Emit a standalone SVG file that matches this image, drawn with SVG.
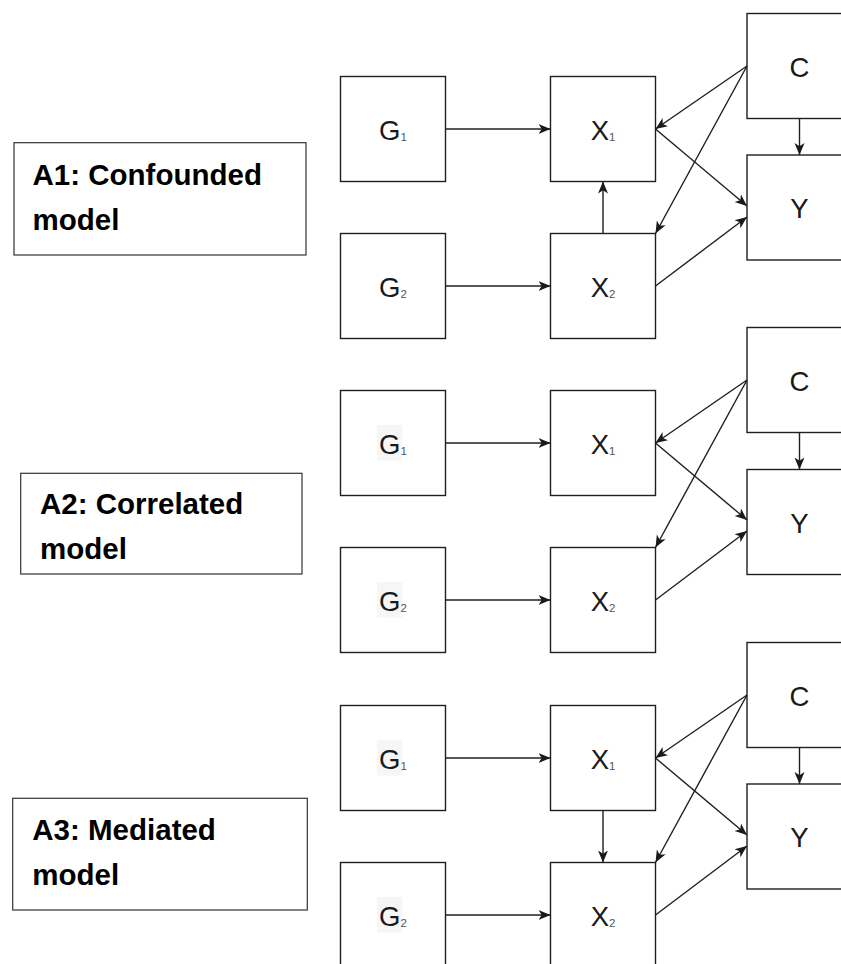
<svg xmlns="http://www.w3.org/2000/svg" width="841" height="964" viewBox="0 0 841 964">
<defs>
<style>
.box{fill:#fff;stroke:#1f1f1f;stroke-width:1.4}
.lbox{fill:#fff;stroke:#333;stroke-width:1.2}
.n{font-family:"Liberation Sans",Arial,sans-serif;font-size:27.5px;fill:#1a1a1a;text-anchor:middle}
.sub{font-size:11.5px;fill:#555}
.lab{font-family:"Liberation Sans",Arial,sans-serif;font-weight:bold;font-size:29.5px;fill:#000}
.hl{fill:#f6f6f6}
.c line{stroke:#1f1f1f;stroke-width:1.4;fill:none;marker-end:url(#ah)}
</style>
<marker id="ah" markerUnits="userSpaceOnUse" markerWidth="14" markerHeight="12" viewBox="0 0 14 12" refX="12" refY="6" orient="auto">
<path d="M0,1 L12,6 L0,11 L3.2,6 z" fill="#1a1a1a"/>
</marker>
</defs>
<rect width="841" height="964" fill="#fff"/>

<!-- Labels -->
<g id="label-a1">
<rect class="lbox" x="14" y="142.7" width="292" height="112.3"/>
<text class="lab" x="32.5" y="185">A1: Confounded</text>
<text class="lab" x="32.5" y="230">model</text>
</g>
<g id="label-a2">
<rect class="lbox" x="20.7" y="473.3" width="281.3" height="100.7"/>
<text class="lab" x="40" y="514">A2: Correlated</text>
<text class="lab" x="40" y="559">model</text>
</g>
<g id="label-a3">
<rect class="lbox" x="12.7" y="798.3" width="294.6" height="111.7"/>
<text class="lab" x="32.3" y="840">A3: Mediated</text>
<text class="lab" x="32.3" y="885">model</text>
</g>

<!-- Section A1 nodes -->
<g id="a1-g1" transform="translate(340.5,76.5)"><rect class="box" width="105" height="105"/><text class="n" x="52.5" y="63">G<tspan class="sub" dy="1.3">1</tspan></text></g>
<g id="a1-x1" transform="translate(550.5,76.5)"><rect class="box" width="105" height="105"/><text class="n" x="52.5" y="63">X<tspan class="sub" dy="1.3">1</tspan></text></g>
<g id="a1-g2" transform="translate(340.5,233.5)"><rect class="box" width="105" height="105"/><text class="n" x="52.5" y="63">G<tspan class="sub" dy="1.3">2</tspan></text></g>
<g id="a1-x2" transform="translate(550.5,233.5)"><rect class="box" width="105" height="105"/><text class="n" x="52.5" y="63">X<tspan class="sub" dy="1.3">2</tspan></text></g>
<g id="a1-c" transform="translate(747,13.5)"><rect class="box" width="105" height="105"/><text class="n" x="52.5" y="63">C</text></g>
<g id="a1-y" transform="translate(747,155)"><rect class="box" width="105" height="105"/><text class="n" x="52.5" y="63">Y</text></g>

<!-- Section A2 nodes -->
<g id="a2-g1" transform="translate(340.5,390.5)"><rect class="box" width="105" height="105"/><rect class="hl" x="36.5" y="34.5" width="25.5" height="35.5"/><text class="n" x="52.5" y="63">G<tspan class="sub" dy="1.3">1</tspan></text></g>
<g id="a2-x1" transform="translate(550.5,390.5)"><rect class="box" width="105" height="105"/><text class="n" x="52.5" y="63">X<tspan class="sub" dy="1.3">1</tspan></text></g>
<g id="a2-g2" transform="translate(340.5,547.5)"><rect class="box" width="105" height="105"/><rect class="hl" x="36.5" y="34.5" width="25.5" height="35.5"/><text class="n" x="52.5" y="63">G<tspan class="sub" dy="1.3">2</tspan></text></g>
<g id="a2-x2" transform="translate(550.5,547.5)"><rect class="box" width="105" height="105"/><text class="n" x="52.5" y="63">X<tspan class="sub" dy="1.3">2</tspan></text></g>
<g id="a2-c" transform="translate(747,327.5)"><rect class="box" width="105" height="105"/><text class="n" x="52.5" y="63">C</text></g>
<g id="a2-y" transform="translate(747,469.5)"><rect class="box" width="105" height="105"/><text class="n" x="52.5" y="63">Y</text></g>

<!-- Section A3 nodes -->
<g id="a3-g1" transform="translate(340.5,705.5)"><rect class="box" width="105" height="105"/><rect class="hl" x="36.5" y="34.5" width="25.5" height="35.5"/><text class="n" x="52.5" y="63">G<tspan class="sub" dy="1.3">1</tspan></text></g>
<g id="a3-x1" transform="translate(550.5,705.5)"><rect class="box" width="105" height="105"/><text class="n" x="52.5" y="63">X<tspan class="sub" dy="1.3">1</tspan></text></g>
<g id="a3-g2" transform="translate(340.5,862.5)"><rect class="box" width="105" height="105"/><rect class="hl" x="36.5" y="34.5" width="25.5" height="35.5"/><text class="n" x="52.5" y="63">G<tspan class="sub" dy="1.3">2</tspan></text></g>
<g id="a3-x2" transform="translate(550.5,862.5)"><rect class="box" width="105" height="105"/><text class="n" x="52.5" y="63">X<tspan class="sub" dy="1.3">2</tspan></text></g>
<g id="a3-c" transform="translate(747,642.5)"><rect class="box" width="105" height="105"/><text class="n" x="52.5" y="63">C</text></g>
<g id="a3-y" transform="translate(747,784)"><rect class="box" width="105" height="105"/><text class="n" x="52.5" y="63">Y</text></g>

<!-- Connectors -->
<g id="connectors" class="c">
<!-- A1 -->
<line x1="445.5" y1="129" x2="550.5" y2="129"/>
<line x1="445.5" y1="286" x2="550.5" y2="286"/>
<line x1="603" y1="233.5" x2="603" y2="181.5"/>
<line x1="747" y1="66" x2="655.5" y2="129"/>
<line x1="747" y1="66" x2="655.5" y2="233.5"/>
<line x1="655.5" y1="129" x2="747" y2="206"/>
<line x1="655.5" y1="286" x2="747" y2="217"/>
<line x1="799.5" y1="118.5" x2="799.5" y2="155"/>
<!-- A2 -->
<line x1="445.5" y1="443" x2="550.5" y2="443"/>
<line x1="445.5" y1="600" x2="550.5" y2="600"/>
<line x1="747" y1="380" x2="655.5" y2="443"/>
<line x1="747" y1="380" x2="655.5" y2="547.5"/>
<line x1="655.5" y1="443" x2="747" y2="520"/>
<line x1="655.5" y1="600" x2="747" y2="531"/>
<line x1="799.5" y1="432.5" x2="799.5" y2="469.5"/>
<!-- A3 -->
<line x1="445.5" y1="758" x2="550.5" y2="758"/>
<line x1="445.5" y1="915" x2="550.5" y2="915"/>
<line x1="603" y1="810.5" x2="603" y2="862.5"/>
<line x1="747" y1="695" x2="655.5" y2="758"/>
<line x1="747" y1="695" x2="655.5" y2="862.5"/>
<line x1="655.5" y1="758" x2="747" y2="835"/>
<line x1="655.5" y1="915" x2="747" y2="846"/>
<line x1="799.5" y1="747.5" x2="799.5" y2="784"/>
</g>
</svg>
